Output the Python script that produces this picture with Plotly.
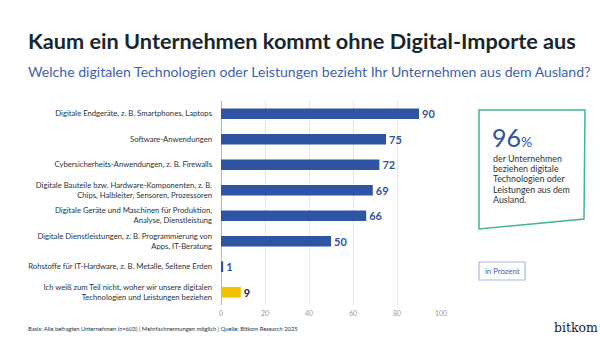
import plotly.graph_objects as go

categories = [
    "Digitale Endgeräte, z. B. Smartphones, Laptops",
    "Software-Anwendungen",
    "Cybersicherheits-Anwendungen, z. B. Firewalls",
    "Digitale Bauteile bzw. Hardware-Komponenten, z. B.<br>Chips, Halbleiter, Sensoren, Prozessoren",
    "Digitale Geräte und Maschinen für Produktion,<br>Analyse, Dienstleistung",
    "Digitale Dienstleistungen, z. B. Programmierung von<br>Apps, IT-Beratung",
    "Rohstoffe für IT-Hardware, z. B. Metalle, Seltene Erden",
    "Ich weiß zum Teil nicht, woher wir unsere digitalen<br>Technologien und Leistungen beziehen",
]
values = [90, 75, 72, 69, 66, 50, 1, 9]
bar_colors = ["#2F54A3"] * 7 + ["#F7C000"]
label_colors = ["#2F54A3"] * 7 + ["#1B2429"]
x_ticks = [0, 20, 40, 60, 80, 100]
callout_lines = ["der Unternehmen", "beziehen digitale", "Technologien oder",
                 "Leistungen aus dem", "Ausland."]

FONT = "Lato"
L, R, T, B = 221, 159, 101, 33

fig = go.Figure()
fig.add_trace(go.Bar(
    x=values, y=categories, orientation="h",
    marker=dict(color=bar_colors, line=dict(width=0)),
    text=[str(v) for v in values], textposition="outside",
    textfont=dict(family=FONT, size=11, color=label_colors, weight="bold"),
    constraintext="none", cliponaxis=False, width=0.42,
    hoverinfo="skip",
))

fig.update_layout(
    width=600, height=338,
    margin=dict(l=L, r=R, t=T, b=B, autoexpand=False),
    paper_bgcolor="white", plot_bgcolor="white",
    showlegend=False,
    font=dict(family=FONT, color="#2A3439"),
    xaxis=dict(range=[0, 100], tickvals=x_ticks, showgrid=True, gridcolor="#E6E6E6",
               gridwidth=1, zeroline=True, zerolinecolor="#B8B8B8", zerolinewidth=1,
               tickfont=dict(size=7, color="#9A9A9A"), ticks="", ticklabelstandoff=3,
               showline=False, fixedrange=True, automargin=False),
    yaxis=dict(categoryorder="array", categoryarray=categories, autorange="reversed",
               tickfont=dict(size=7.7, color="#2A3439"), ticks="", ticklabelstandoff=8,
               showgrid=False, fixedrange=True, automargin=False),
)

def px(x):
    return (x - L) / (600 - L - R)

def py(y):
    return (338 - B - y) / (338 - T - B)

def add_text(text, x, y, size, color, xanchor="left", yanchor="middle", family=FONT, align="left"):
    fig.add_annotation(text=text, x=px(x), y=py(y), xref="paper", yref="paper",
                       showarrow=False, xanchor=xanchor, yanchor=yanchor, align=align,
                       font=dict(family=family, size=size, color=color))

# Title and subtitle
add_text("<b>Kaum ein Unternehmen kommt ohne Digital-Importe aus</b>", 26, 41, 21.7, "#18272E")
add_text("Welche digitalen Technologien oder Leistungen bezieht Ihr Unternehmen aus dem Ausland?",
         26, 71, 14.1, "#3E5FAE")

# Green callout box (slightly skewed)
fig.add_shape(type="path", xref="paper", yref="paper",
              path=f"M {px(479)} {py(110)} L {px(585)} {py(110)} L {px(584)} {py(219)} L {px(479)} {py(229)} Z",
              line=dict(color="#3FB78B", width=1.5), fillcolor="rgba(0,0,0,0)")
add_text("96<span style='font-size:14px'>%</span>", 490, 137, 25, "#2F54A3")
for i, line in enumerate(callout_lines):
    add_text(line, 491, 158.3 + i * 10.25, 8.9, "#2A3439")

# "in Prozent" box
fig.add_shape(type="rect", xref="paper", yref="paper",
              x0=px(479), x1=px(525), y0=py(262), y1=py(280),
              line=dict(color="#A9B8D6", width=1.2), fillcolor="white")
add_text("in Prozent", 502, 271, 7.8, "#3E5FAE", xanchor="center")

# Footnote
add_text("Basis: Alle befragten Unternehmen (n=603) | Mehrfachnennungen möglich | Quelle: Bitkom Research 2025",
         26, 328, 5.8, "#2A3439")
# Logo text
add_text("bitkom", 600, 327, 12.5, "#18272E", xanchor="right", family="DejaVu Serif")

fig.write_html("out.html")
